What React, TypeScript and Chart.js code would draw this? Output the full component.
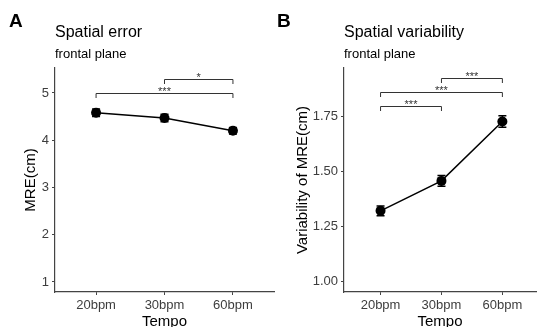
import React, { useEffect, useRef } from 'react';
import { Chart, registerables } from 'chart.js';

Chart.register(...registerables);

const tempoLabels = ['20bpm', '30bpm', '60bpm'];

const errorMeans = [4.58, 4.47, 4.2];
const errorSE = [0.08, 0.08, 0.07];
const errorTicks = [1, 2, 3, 4, 5];
const errorBracketFrom = [2, 1];
const errorBracketTo = [3, 3];
const errorBracketY = [5.3, 5.0];
const errorBracketLabels = ['*', '***'];

const variabilityMeans = [1.322, 1.458, 1.728];
const variabilitySE = [0.022, 0.024, 0.026];
const variabilityTicks = [1.0, 1.25, 1.5, 1.75];
const variabilityBracketFrom = [2, 1, 1];
const variabilityBracketTo = [3, 3, 2];
const variabilityBracketY = [1.925, 1.864, 1.8];
const variabilityBracketLabels = ['***', '***', '***'];

const FONT = '"Liberation Sans", Arial, sans-serif';
const W = 541;
const H = 327;

type PanelCfg = {
  letter: string;
  title: string;
  subtitle: string;
  yTitle: string;
  means: number[];
  se: number[];
  yTicks: number[];
  yMin: number;
  yMax: number;
  yDecimals: number;
  xMax: number;
  padLeft: number;
  padRight: number;
  axisWidth: number;
  yTitlePad: number;
  letterX: number;
  bFrom: number[];
  bTo: number[];
  bY: number[];
  bLabels: string[];
};

function makePlugin(cfg: PanelCfg) {
  return {
    id: 'overlay' + cfg.letter,
    afterDatasetsDraw(chart: any) {
      const { ctx, scales } = chart;
      const x = scales.x;
      const y = scales.y;
      ctx.save();
      ctx.strokeStyle = '#000';
      ctx.lineWidth = 1.5;
      cfg.means.forEach((m, i) => {
        const px = x.getPixelForValue(i + 1);
        const top = y.getPixelForValue(m + cfg.se[i]);
        const bot = y.getPixelForValue(m - cfg.se[i]);
        ctx.beginPath();
        ctx.moveTo(px, top);
        ctx.lineTo(px, bot);
        ctx.moveTo(px - 4, top);
        ctx.lineTo(px + 4, top);
        ctx.moveTo(px - 4, bot);
        ctx.lineTo(px + 4, bot);
        ctx.stroke();
      });
      ctx.strokeStyle = '#333';
      ctx.lineWidth = 1;
      ctx.fillStyle = '#333';
      ctx.font = '11px ' + FONT;
      ctx.textAlign = 'center';
      ctx.textBaseline = 'alphabetic';
      cfg.bY.forEach((v, i) => {
        const x1 = x.getPixelForValue(cfg.bFrom[i]);
        const x2 = x.getPixelForValue(cfg.bTo[i]);
        const py = Math.round(y.getPixelForValue(v)) + 0.5;
        ctx.beginPath();
        ctx.moveTo(x1, py + 4.5);
        ctx.lineTo(x1, py);
        ctx.lineTo(x2, py);
        ctx.lineTo(x2, py + 4.5);
        ctx.stroke();
        ctx.fillText(cfg.bLabels[i], (x1 + x2) / 2, py + 1.5);
      });
      ctx.restore();
    },
    afterDraw(chart: any) {
      const { ctx, chartArea } = chart;
      ctx.save();
      ctx.fillStyle = '#000';
      ctx.textAlign = 'left';
      ctx.textBaseline = 'alphabetic';
      ctx.font = 'bold 19px ' + FONT;
      ctx.fillText(cfg.letter, cfg.letterX, 27);
      ctx.font = '16px ' + FONT;
      ctx.fillText(cfg.title, chartArea.left, 37);
      ctx.font = '13px ' + FONT;
      ctx.fillText(cfg.subtitle, chartArea.left, 58);
      ctx.restore();
    },
  };
}

function makeConfig(cfg: PanelCfg): any {
  return {
    type: 'line',
    data: {
      datasets: [
        {
          data: cfg.means.map((m, i) => ({ x: i + 1, y: m })),
          borderColor: '#000',
          borderWidth: 1.5,
          pointRadius: 5,
          pointBackgroundColor: '#000',
          pointBorderWidth: 0,
          tension: 0,
        },
      ],
    },
    options: {
      animation: false,
      responsive: false,
      layout: { padding: { left: cfg.padLeft, right: cfg.padRight, top: 68, bottom: 0 } },
      plugins: { legend: { display: false }, tooltip: { enabled: false }, title: { display: false } },
      scales: {
        x: {
          type: 'linear',
          min: 0.4,
          max: cfg.xMax,
          afterFit: (s: any) => {
            s.height = 35;
          },
          afterBuildTicks: (s: any) => {
            s.ticks = [1, 2, 3].map((v) => ({ value: v }));
          },
          ticks: {
            autoSkip: false,
            maxRotation: 0,
            padding: 3,
            color: '#3d3d3d',
            font: { family: FONT, size: 13 },
            callback: (v: any) => tempoLabels[Math.round(v) - 1],
          },
          grid: { drawOnChartArea: false, drawTicks: true, tickLength: 3, color: '#444' },
          border: { display: true, color: '#444', width: 1.2 },
          title: {
            display: true,
            text: 'Tempo',
            color: '#000',
            font: { family: FONT, size: 15 },
            padding: { top: 0, bottom: -4 },
          },
        },
        y: {
          min: cfg.yMin,
          max: cfg.yMax,
          afterFit: (s: any) => {
            s.width = cfg.axisWidth;
          },
          afterBuildTicks: (s: any) => {
            s.ticks = cfg.yTicks.map((v) => ({ value: v }));
          },
          ticks: {
            padding: 3,
            color: '#3d3d3d',
            font: { family: FONT, size: 13 },
            callback: (v: any) => Number(v).toFixed(cfg.yDecimals),
          },
          grid: { drawOnChartArea: false, drawTicks: true, tickLength: 3, color: '#444' },
          border: { display: true, color: '#444', width: 1.2 },
          title: {
            display: true,
            text: cfg.yTitle,
            color: '#000',
            font: { family: FONT, size: 15 },
            padding: { top: cfg.yTitlePad, bottom: 0 },
          },
        },
      },
    },
    plugins: [makePlugin(cfg)],
  };
}

const panelA: PanelCfg = {
  letter: 'A',
  title: 'Spatial error',
  subtitle: 'frontal plane',
  yTitle: 'MRE(cm)',
  means: errorMeans,
  se: errorSE,
  yTicks: errorTicks,
  yMin: 0.788,
  yMax: 5.529,
  yDecimals: 0,
  xMax: 3.6,
  padLeft: 0,
  padRight: 267,
  axisWidth: 55,
  yTitlePad: 22,
  letterX: 9,
  bFrom: errorBracketFrom,
  bTo: errorBracketTo,
  bY: errorBracketY,
  bLabels: errorBracketLabels,
};

const panelB: PanelCfg = {
  letter: 'B',
  title: 'Spatial variability',
  subtitle: 'frontal plane',
  yTitle: 'Variability of MRE(cm)',
  means: variabilityMeans,
  se: variabilitySE,
  yTicks: variabilityTicks,
  yMin: 0.953,
  yMax: 1.971,
  yDecimals: 2,
  xMax: 3.552,
  padLeft: 270,
  padRight: 0,
  axisWidth: 74,
  yTitlePad: 24,
  letterX: 277,
  bFrom: variabilityBracketFrom,
  bTo: variabilityBracketTo,
  bY: variabilityBracketY,
  bLabels: variabilityBracketLabels,
};

export default function App() {
  const refA = useRef<HTMLCanvasElement>(null);
  const refB = useRef<HTMLCanvasElement>(null);

  useEffect(() => {
    const a = new Chart(refA.current as HTMLCanvasElement, makeConfig(panelA));
    const b = new Chart(refB.current as HTMLCanvasElement, makeConfig(panelB));
    return () => {
      a.destroy();
      b.destroy();
    };
  }, []);

  const canvasStyle: React.CSSProperties = { position: 'absolute', left: 0, top: 0, width: W, height: H };
  return (
    <div style={{ position: 'absolute', left: 0, top: 0, width: W, height: H, background: '#fff', overflow: 'hidden' }}>
      <canvas ref={refA} width={W} height={H} style={canvasStyle} />
      <canvas ref={refB} width={W} height={H} style={canvasStyle} />
    </div>
  );
}
